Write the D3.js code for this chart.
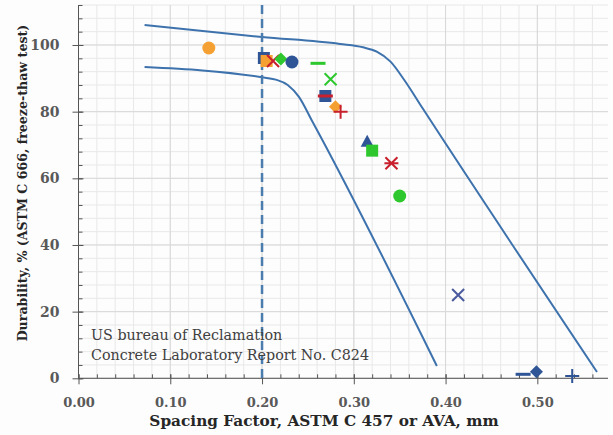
<!DOCTYPE html>
<html><head><meta charset="utf-8">
<script src="https://cdn.jsdelivr.net/npm/d3@7"></script>
<style>
html,body{margin:0;padding:0;background:#fdfdfd;}
svg{display:block;}
</style></head>
<body>
<svg id="chart" width="613" height="435"></svg>
<script>
// ---- data ----
const xTicks = [0.00, 0.10, 0.20, 0.30, 0.40, 0.50];
const yTicks = [0, 20, 40, 60, 80, 100];
const upperX = [0.072, 0.200, 0.285, 0.310, 0.325, 0.340, 0.355, 0.375, 0.565];
const upperY = [106.0, 102.4, 100.3, 99.3, 98.0, 95.0, 89.5, 81.0, 1.9];
const lowerX = [0.072, 0.198, 0.215, 0.228, 0.240, 0.255, 0.3905];
const lowerY = [93.4, 90.4, 89.6, 88.0, 84.5, 77.0, 3.7];
const limitX = 0.20;
const pointX = [0.142, 0.202, 0.205, 0.212, 0.2205, 0.2326, 0.261, 0.2747, 0.269, 0.269, 0.280, 0.2856, 0.3146, 0.320, 0.341, 0.350, 0.4137, 0.4845, 0.499, 0.538];
const pointY = [99.1, 96.1, 95.2, 95.2, 95.8, 94.9, 94.5, 89.7, 84.7, 84.7, 81.5, 80.0, 71.0, 68.3, 64.5, 54.7, 25.0, 1.2, 2.0, 0.7];
const pointShape = ["circle","square","square","x","diamond","circle","dash","x","square","dash","diamond","plus","triangle","square","asterisk","circle","x","dash","diamond","plus"];
const pointColor = ["orange","blue","orange","red","green","blue","green","green","blue","red","orange","red","blue","green","red","green","navy","blue","blue","blue"];
const noteLines = ["US bureau of Reclamation", "Concrete Laboratory Report No. C824"];
const xTitle = "Spacing Factor, ASTM C 457 or AVA, mm";
const yTitle = "Durability, % (ASTM C 666, freeze-thaw test)";

// ---- style ----
const palette = {orange:"#f5a032", blue:"#2f5597", red:"#c8202c", green:"#2ec82e", navy:"#4a5a9e"};
const svg = d3.select("#chart");
const x = d3.scaleLinear().domain([0, 0.577]).range([78.5, 608]);
const y = d3.scaleLinear().domain([0, 112]).range([378.3, 5]);
const serif = "'DejaVu Serif', serif";

// grid
const g = svg.append("g");
const minorX = d3.range(0, 0.577, 0.02);
const minorY = d3.range(0, 112.1, 4);
g.selectAll(".gx").data(minorX).join("line")
  .attr("x1", d => x(d)).attr("x2", d => x(d)).attr("y1", y(112)).attr("y2", y(0))
  .attr("stroke", "#e8e8e8").attr("stroke-width", 1);
g.selectAll(".gy").data(minorY).join("line")
  .attr("y1", d => y(d)).attr("y2", d => y(d)).attr("x1", x(0)).attr("x2", x(0.577))
  .attr("stroke", "#e8e8e8").attr("stroke-width", 1);
g.selectAll(".gX").data(xTicks).join("line")
  .attr("x1", d => x(d)).attr("x2", d => x(d)).attr("y1", y(112)).attr("y2", y(0))
  .attr("stroke", "#d8d8d8").attr("stroke-width", 1);
g.selectAll(".gY").data(yTicks).join("line")
  .attr("y1", d => y(d)).attr("y2", d => y(d)).attr("x1", x(0)).attr("x2", x(0.577))
  .attr("stroke", "#d8d8d8").attr("stroke-width", 1);

// axes
const axisColor = "#555";
const xAxisMinor = d3.axisTop(x).tickValues(minorX).tickSize(4).tickFormat("");
const yAxisMinor = d3.axisRight(y).tickValues(minorY).tickSize(4).tickFormat("");
svg.append("g").attr("transform", `translate(0,${y(0)})`).call(xAxisMinor)
  .call(s => { s.select(".domain").remove(); s.selectAll("line").attr("stroke", axisColor); });
svg.append("g").attr("transform", `translate(${x(0)},0)`).call(yAxisMinor)
  .call(s => { s.select(".domain").remove(); s.selectAll("line").attr("stroke", axisColor); });

const xAxis = d3.axisBottom(x).tickValues(xTicks).tickSize(6).tickPadding(13).tickFormat(d3.format(".2f"));
const xg = svg.append("g").attr("transform", `translate(0,${y(0)})`).call(xAxis);
xg.select(".domain").attr("d", `M${x(0)},0H${x(0.577)}`).attr("stroke", axisColor);
xg.selectAll(".tick line").attr("y1", -4).attr("stroke", axisColor);
xg.selectAll("text").attr("font-family", serif).attr("font-size", 13).attr("font-weight", "bold").attr("fill", "#595959");

const yAxis = d3.axisLeft(y).tickValues(yTicks).tickSize(6).tickPadding(13);
const yg = svg.append("g").attr("transform", `translate(${x(0)},0)`).call(yAxis);
yg.select(".domain").attr("d", `M0,${y(0)}V${y(112)}`).attr("stroke", axisColor);
yg.selectAll(".tick line").attr("x2", -6).attr("x1", 5).attr("stroke", axisColor);
yg.selectAll("text").attr("font-family", serif).attr("font-size", 14).attr("font-weight", "bold").attr("fill", "#595959");

// curves
const line = d3.line().x(d => x(d[0])).y(d => y(d[1])).curve(d3.curveMonotoneX);
const lineColor = "#3d72ad";
svg.append("path").datum(upperX.map((v, i) => [v, upperY[i]])).attr("d", line)
  .attr("fill", "none").attr("stroke", lineColor).attr("stroke-width", 2);
svg.append("path").datum(lowerX.map((v, i) => [v, lowerY[i]])).attr("d", line)
  .attr("fill", "none").attr("stroke", lineColor).attr("stroke-width", 2);
svg.append("line").attr("x1", x(limitX)).attr("x2", x(limitX)).attr("y1", y(112)).attr("y2", y(0))
  .attr("stroke", "#4a7cae").attr("stroke-width", 2.5).attr("stroke-dasharray", "9,5");

// points
const pts = svg.append("g");
pointX.forEach((px, i) => {
  const cx = x(px), cy = y(pointY[i]);
  const c = palette[pointColor[i]];
  const sh = pointShape[i];
  const gg = pts.append("g").attr("transform", `translate(${cx},${cy})`);
  if (sh === "circle") gg.append("circle").attr("r", 6.5).attr("fill", c);
  else if (sh === "square") gg.append("rect").attr("x", -6).attr("y", -6).attr("width", 12).attr("height", 12).attr("fill", c);
  else if (sh === "diamond") gg.append("path").attr("d", "M0,-6.5L6.5,0L0,6.5L-6.5,0Z").attr("fill", c);
  else if (sh === "triangle") gg.append("path").attr("d", "M0,-7L6.5,5L-6.5,5Z").attr("fill", c);
  else if (sh === "dash") gg.append("rect").attr("x", -7.5).attr("y", -1.5).attr("width", 15).attr("height", 3).attr("fill", c);
  else if (sh === "x") gg.append("path").attr("d", "M-6,-6L6,6M-6,6L6,-6").attr("stroke", c).attr("stroke-width", 2).attr("fill", "none");
  else if (sh === "plus") gg.append("path").attr("d", "M-7,0H7M0,-7V7").attr("stroke", c).attr("stroke-width", 2).attr("fill", "none");
  else if (sh === "asterisk") gg.append("path").attr("d", "M-6,-6L6,6M-6,6L6,-6M-7,0H7").attr("stroke", c).attr("stroke-width", 2).attr("fill", "none");
});

// note
svg.append("g").selectAll("text").data(noteLines).join("text")
  .attr("x", 91).attr("y", (d, i) => 340 + i * 19.5)
  .attr("font-family", serif).attr("font-size", 14.3).attr("fill", "#404040").text(d => d);

// titles
svg.append("text").attr("x", 324).attr("y", 426).attr("text-anchor", "middle")
  .attr("font-family", serif).attr("font-size", 15.3).attr("font-weight", "bold").attr("fill", "#262626").text(xTitle);
svg.append("text").attr("transform", "translate(27,183) rotate(-90)").attr("text-anchor", "middle")
  .attr("font-family", serif).attr("font-size", 12.6).attr("font-weight", "bold").attr("fill", "#262626").text(yTitle);
</script>
</body></html>
